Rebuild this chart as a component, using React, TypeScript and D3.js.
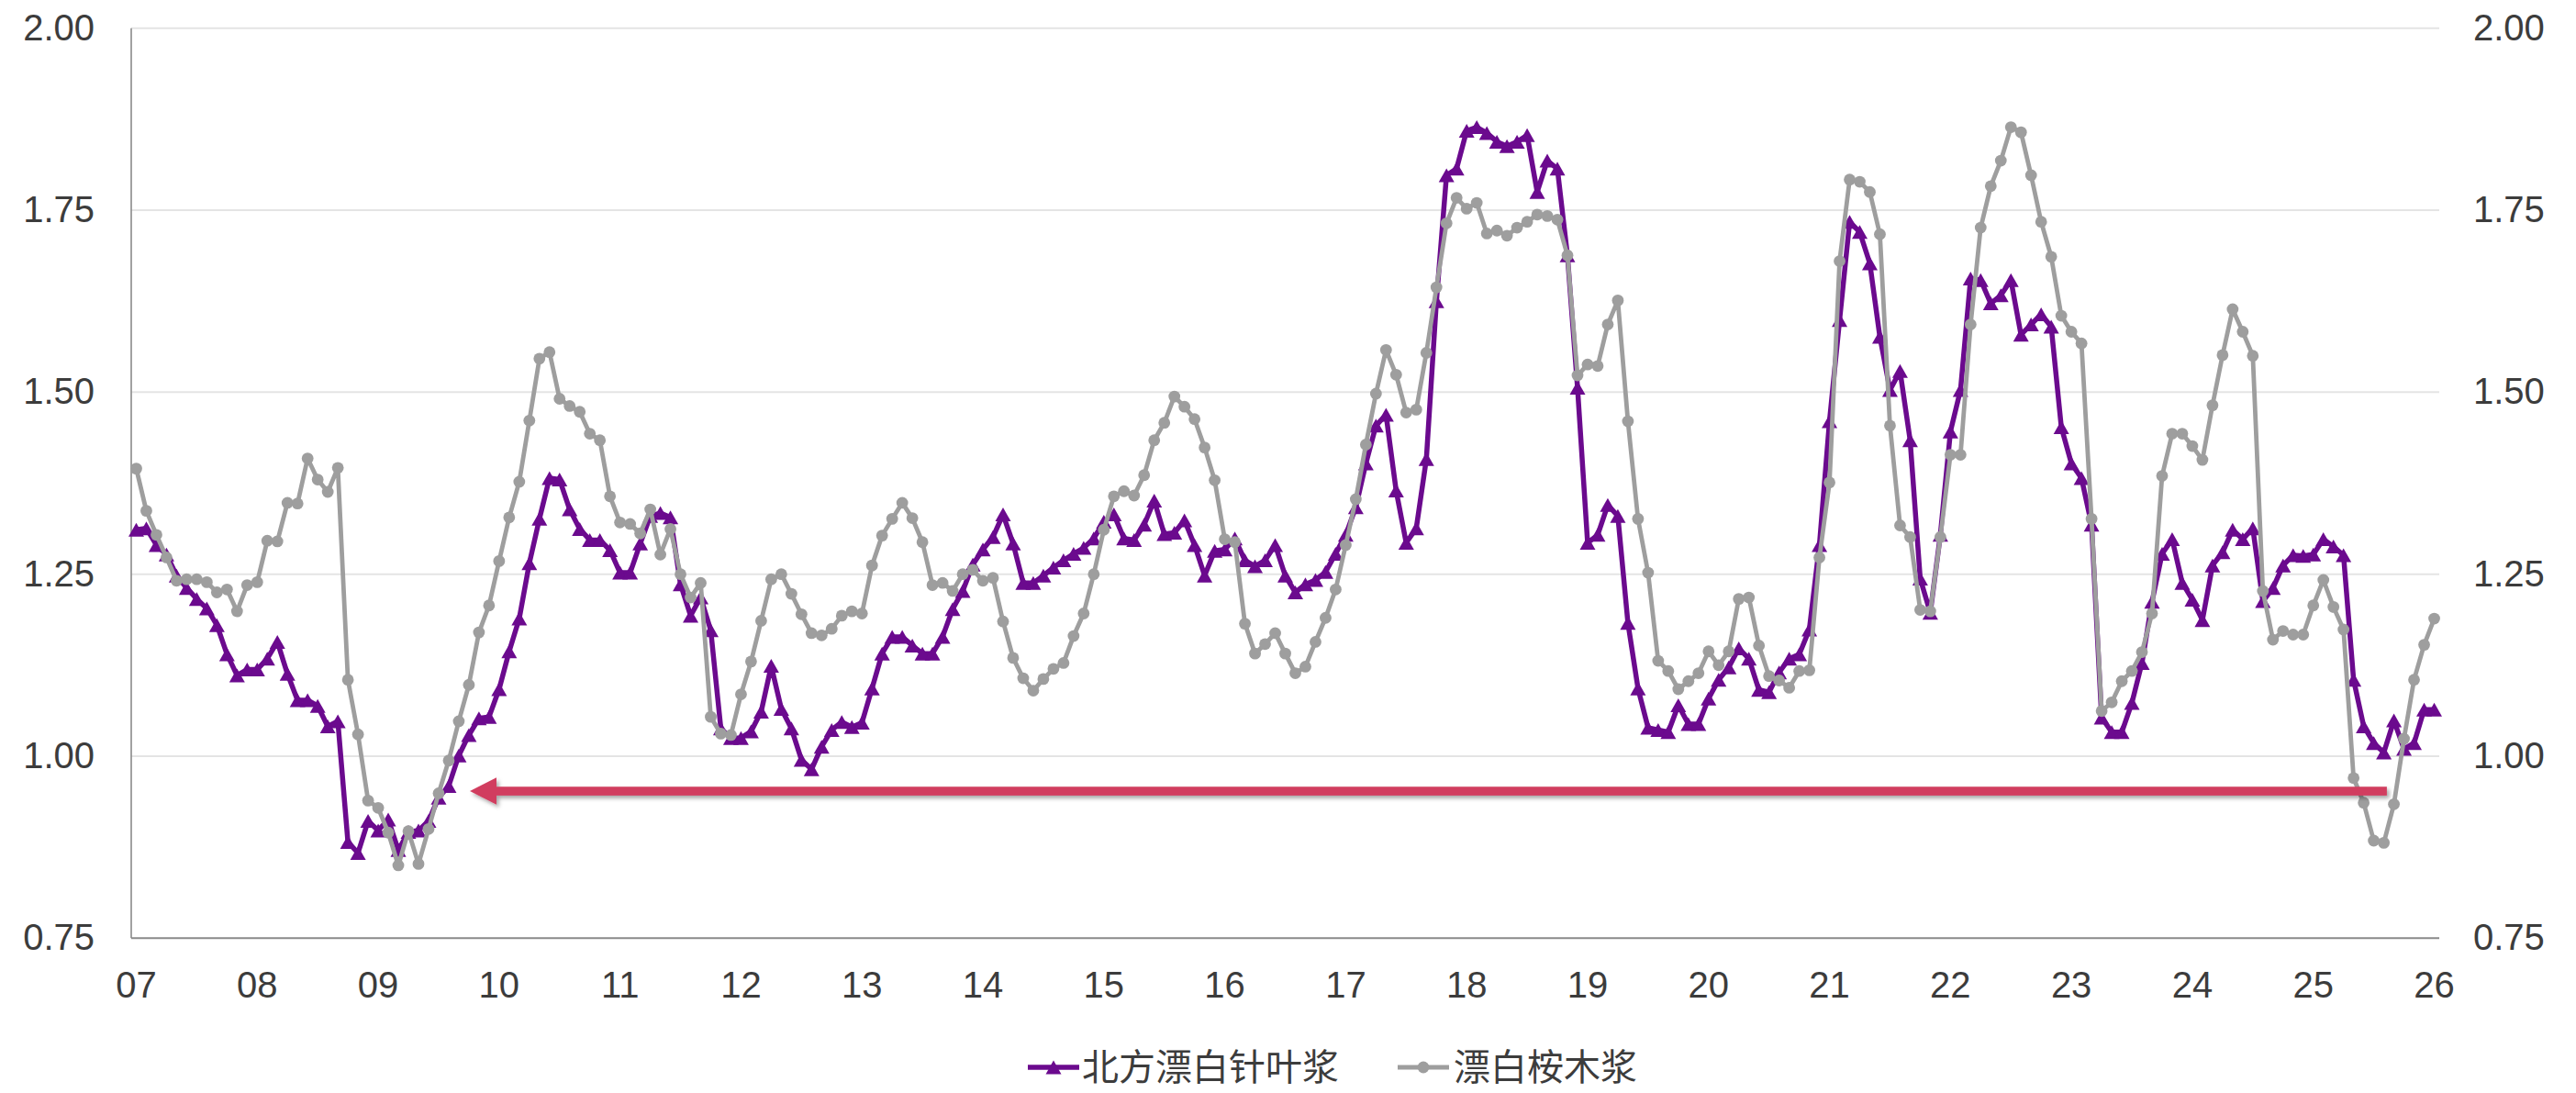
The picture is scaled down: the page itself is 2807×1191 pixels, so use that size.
import React from 'react';
import * as d3 from 'd3';

// Monthly observations, Jan 2007 .. Jan 2026
const MONTHS: Date[] = d3.timeMonth.range(new Date(2007, 0, 1), new Date(2026, 1, 1));

const YEAR_LABELS = ['07', '08', '09', '10', '11', '12', '13', '14', '15', '16', '17', '18', '19', '20', '21', '22', '23', '24', '25', '26'];

const Y_TICKS = [0.75, 1.0, 1.25, 1.5, 1.75, 2.0];

const SERIES_NAMES = ['北方漂白针叶浆', '漂白桉木浆'];

// 北方漂白针叶浆
const SOFTWOOD = [
  1.311, 1.313, 1.290, 1.277, 1.248, 1.231, 1.216, 1.203, 1.180, 1.140, 1.111, 1.119,
  1.119, 1.134, 1.157, 1.113, 1.077, 1.077, 1.069, 1.041, 1.048, 0.882, 0.867, 0.911,
  0.898, 0.913, 0.871, 0.896, 0.898, 0.911, 0.943, 0.959, 1.001, 1.029, 1.052, 1.054,
  1.092, 1.144, 1.189, 1.265, 1.326, 1.382, 1.380, 1.339, 1.312, 1.297, 1.297, 1.283,
  1.252, 1.252, 1.292, 1.330, 1.334, 1.328, 1.236, 1.193, 1.218, 1.173, 1.038, 1.025,
  1.025, 1.034, 1.061, 1.124, 1.065, 1.038, 0.995, 0.982, 1.013, 1.036, 1.047, 1.040,
  1.046, 1.093, 1.141, 1.164, 1.164, 1.152, 1.141, 1.141, 1.164, 1.202, 1.227, 1.263,
  1.284, 1.301, 1.332, 1.292, 1.238, 1.238, 1.248, 1.259, 1.269, 1.278, 1.286, 1.299,
  1.322, 1.332, 1.299, 1.297, 1.318, 1.351, 1.305, 1.307, 1.324, 1.290, 1.248, 1.282,
  1.284, 1.299, 1.269, 1.261, 1.269, 1.290, 1.248, 1.225, 1.236, 1.242, 1.253, 1.278,
  1.304, 1.342, 1.402, 1.454, 1.469, 1.365, 1.293, 1.313, 1.408, 1.625, 1.798, 1.807,
  1.859, 1.864, 1.856, 1.844, 1.838, 1.844, 1.853, 1.775, 1.818, 1.807, 1.688, 1.506,
  1.293, 1.304, 1.345, 1.330, 1.183, 1.093, 1.039, 1.036, 1.033, 1.070, 1.044, 1.044,
  1.079, 1.105, 1.122, 1.148, 1.134, 1.091, 1.088, 1.115, 1.134, 1.140, 1.174, 1.290,
  1.460, 1.599, 1.734, 1.720, 1.677, 1.576, 1.503, 1.529, 1.434, 1.244, 1.197, 1.304,
  1.446, 1.503, 1.656, 1.654, 1.622, 1.633, 1.654, 1.579, 1.593, 1.607, 1.590, 1.452,
  1.402, 1.382, 1.318, 1.053, 1.033, 1.033, 1.073, 1.128, 1.212, 1.278, 1.298, 1.238,
  1.215, 1.187, 1.262, 1.280, 1.311, 1.298, 1.313, 1.213, 1.231, 1.262, 1.276, 1.275,
  1.277, 1.298, 1.288, 1.276, 1.105, 1.041, 1.018, 1.005, 1.049, 1.010, 1.018, 1.064,
  1.064,
];

// 漂白桉木浆
const HARDWOOD = [
  1.395, 1.337, 1.304, 1.273, 1.241, 1.243, 1.243, 1.239, 1.225, 1.229, 1.199, 1.235,
  1.239, 1.296, 1.295, 1.348, 1.347, 1.409, 1.380, 1.363, 1.396, 1.105, 1.030, 0.939,
  0.929, 0.895, 0.850, 0.897, 0.852, 0.900, 0.949, 0.994, 1.048, 1.098, 1.170, 1.207,
  1.268, 1.328, 1.377, 1.461, 1.546, 1.555, 1.491, 1.481, 1.473, 1.443, 1.434, 1.357,
  1.321, 1.319, 1.306, 1.339, 1.277, 1.312, 1.250, 1.218, 1.238, 1.054, 1.031, 1.029,
  1.085, 1.130, 1.186, 1.243, 1.250, 1.223, 1.195, 1.169, 1.166, 1.175, 1.193, 1.199,
  1.196, 1.262, 1.303, 1.326, 1.348, 1.327, 1.294, 1.235, 1.238, 1.227, 1.250, 1.256,
  1.241, 1.245, 1.185, 1.135, 1.107, 1.090, 1.106, 1.120, 1.128, 1.165, 1.196, 1.250,
  1.311, 1.357, 1.364, 1.358, 1.386, 1.434, 1.458, 1.494, 1.480, 1.463, 1.424, 1.379,
  1.298, 1.294, 1.182, 1.141, 1.154, 1.169, 1.141, 1.114, 1.123, 1.157, 1.190, 1.229,
  1.290, 1.353, 1.428, 1.498, 1.558, 1.524, 1.472, 1.476, 1.554, 1.644, 1.732, 1.767,
  1.752, 1.760, 1.718, 1.722, 1.715, 1.726, 1.734, 1.744, 1.742, 1.737, 1.688, 1.523,
  1.538, 1.536, 1.593, 1.626, 1.460, 1.326, 1.252, 1.131, 1.117, 1.092, 1.103, 1.114,
  1.144, 1.125, 1.144, 1.216, 1.218, 1.152, 1.110, 1.104, 1.094, 1.117, 1.118, 1.273,
  1.376, 1.680, 1.792, 1.789, 1.775, 1.717, 1.454, 1.317, 1.301, 1.201, 1.199, 1.301,
  1.414, 1.414, 1.593, 1.726, 1.783, 1.818, 1.864, 1.857, 1.798, 1.734, 1.686, 1.605,
  1.583, 1.567, 1.326, 1.062, 1.074, 1.103, 1.117, 1.143, 1.196, 1.385, 1.443, 1.443,
  1.426, 1.407, 1.482, 1.551, 1.614, 1.583, 1.550, 1.227, 1.160, 1.172, 1.167, 1.167,
  1.207, 1.242, 1.205, 1.174, 0.970, 0.936, 0.884, 0.881, 0.934, 1.024, 1.105, 1.153,
  1.189,
];

// Reference arrow: horizontal level and its span in month positions (right end -> tip)
const ARROW_LEVEL = 0.952;
const ARROW_FROM = 223.3;
const ARROW_TO = 33.1;

const W = 2807;
const H = 1191;
const PLOT = { left: 143, right: 2658, top: 30.7, bottom: 1022.3 };

const PURPLE = '#6B0A8E';
const GRAY = '#9E9E9E';
const ARROW = '#D13E5F';
const TEXT = '#3C3C3C';
const NUM_FONT = '"Liberation Sans", Arial, sans-serif';
const CJK_FONT = '"Noto Sans CJK SC", "Noto Sans", sans-serif';

const TRI = 'M0,-7.5L8.5,7.5L-8.5,7.5Z';

// legend: marker row and text baseline
const LEGEND_MARK_Y = 1163;
const LEGEND_TEXT_Y = 1177;

export default function App() {
  const n = MONTHS.length;
  const x = d3.scaleLinear().domain([-0.5, n - 0.5]).range([PLOT.left, PLOT.right]);
  const y = d3.scaleLinear().domain([0.75, 2.0]).range([PLOT.bottom, PLOT.top]);

  const line = d3
    .line<number>()
    .x((_, i) => x(i))
    .y((v) => y(v));

  const yearTicks = MONTHS.map((m, i) => ({ m, i })).filter((d) => d.m.getMonth() === 0);

  const ay = y(ARROW_LEVEL);
  const headLen = 29;
  const headHalf = 14.7;
  const tipX = x(ARROW_TO);
  const tailX = x(ARROW_FROM);

  return (
    <div style={{ width: W, height: H, overflow: 'hidden' }}>
      <style>{'body{margin:0;overflow:hidden;}'}</style>
      <svg width={W} height={H} style={{ display: 'block', background: '#fff' }}>
        <defs>
          <filter id="arrowShadow" x="-5%" y="-100%" width="110%" height="300%">
            <feDropShadow dx="2.5" dy="3" stdDeviation="2.2" floodColor="#000" floodOpacity="0.35" />
          </filter>
        </defs>

        {/* horizontal gridlines */}
        {Y_TICKS.filter((t) => t > 0.75).map((t) => (
          <line key={t} x1={PLOT.left} x2={PLOT.right} y1={y(t)} y2={y(t)} stroke="#E4E4E4" strokeWidth={2} />
        ))}

        {/* axes */}
        <line x1={PLOT.left} x2={PLOT.left} y1={PLOT.top} y2={PLOT.bottom} stroke="#8A8A8A" strokeWidth={1.6} />
        <line x1={PLOT.left} x2={PLOT.right} y1={PLOT.bottom} y2={PLOT.bottom} stroke="#8A8A8A" strokeWidth={2} />

        {/* left / right value labels */}
        {Y_TICKS.map((t) => (
          <g key={'yl' + t} fontFamily={NUM_FONT} fontSize={40} fill={TEXT}>
            <text x={103} y={y(t) - 1} textAnchor="end" dy="0.35em">
              {t.toFixed(2)}
            </text>
            <text x={2695} y={y(t) - 1} textAnchor="start" dy="0.35em">
              {t.toFixed(2)}
            </text>
          </g>
        ))}

        {/* year labels */}
        {yearTicks.map((d, k) => (
          <text
            key={'x' + d.i}
            x={x(d.i)}
            y={1087}
            textAnchor="middle"
            fontFamily={NUM_FONT}
            fontSize={40}
            fill={TEXT}
          >
            {YEAR_LABELS[k]}
          </text>
        ))}

        {/* 北方漂白针叶浆 */}
        <path d={line(SOFTWOOD) || ''} fill="none" stroke={PURPLE} strokeWidth={5.5} strokeLinejoin="round" />
        {SOFTWOOD.map((v, i) => (
          <path key={'s' + i} d={TRI} transform={`translate(${x(i)},${y(v)})`} fill={PURPLE} />
        ))}

        {/* 漂白桉木浆 */}
        <path d={line(HARDWOOD) || ''} fill="none" stroke={GRAY} strokeWidth={4.8} strokeLinejoin="round" />
        {HARDWOOD.map((v, i) => (
          <circle key={'h' + i} cx={x(i)} cy={y(v)} r={6.4} fill={GRAY} />
        ))}

        {/* arrow */}
        <g filter="url(#arrowShadow)">
          <rect x={tipX + headLen - 1} y={ay - 4.8} width={tailX - tipX - headLen + 1} height={9.6} fill={ARROW} />
          <path
            d={`M${tipX},${ay}L${tipX + headLen},${ay - headHalf}L${tipX + headLen},${ay + headHalf}Z`}
            fill={ARROW}
          />
        </g>

        {/* legend */}
        <g>
          <line x1={1120} x2={1176} y1={LEGEND_MARK_Y} y2={LEGEND_MARK_Y} stroke={PURPLE} strokeWidth={5.5} />
          <path d={TRI} transform={`translate(1148,${LEGEND_MARK_Y})`} fill={PURPLE} />
          <text x={1179} y={LEGEND_TEXT_Y} fontFamily={CJK_FONT} fontSize={40} fill={TEXT}>
            {SERIES_NAMES[0]}
          </text>
          <line x1={1523} x2={1579} y1={LEGEND_MARK_Y} y2={LEGEND_MARK_Y} stroke={GRAY} strokeWidth={4.8} />
          <circle cx={1551} cy={LEGEND_MARK_Y} r={6.4} fill={GRAY} />
          <text x={1584} y={LEGEND_TEXT_Y} fontFamily={CJK_FONT} fontSize={40} fill={TEXT}>
            {SERIES_NAMES[1]}
          </text>
        </g>
      </svg>
    </div>
  );
}
